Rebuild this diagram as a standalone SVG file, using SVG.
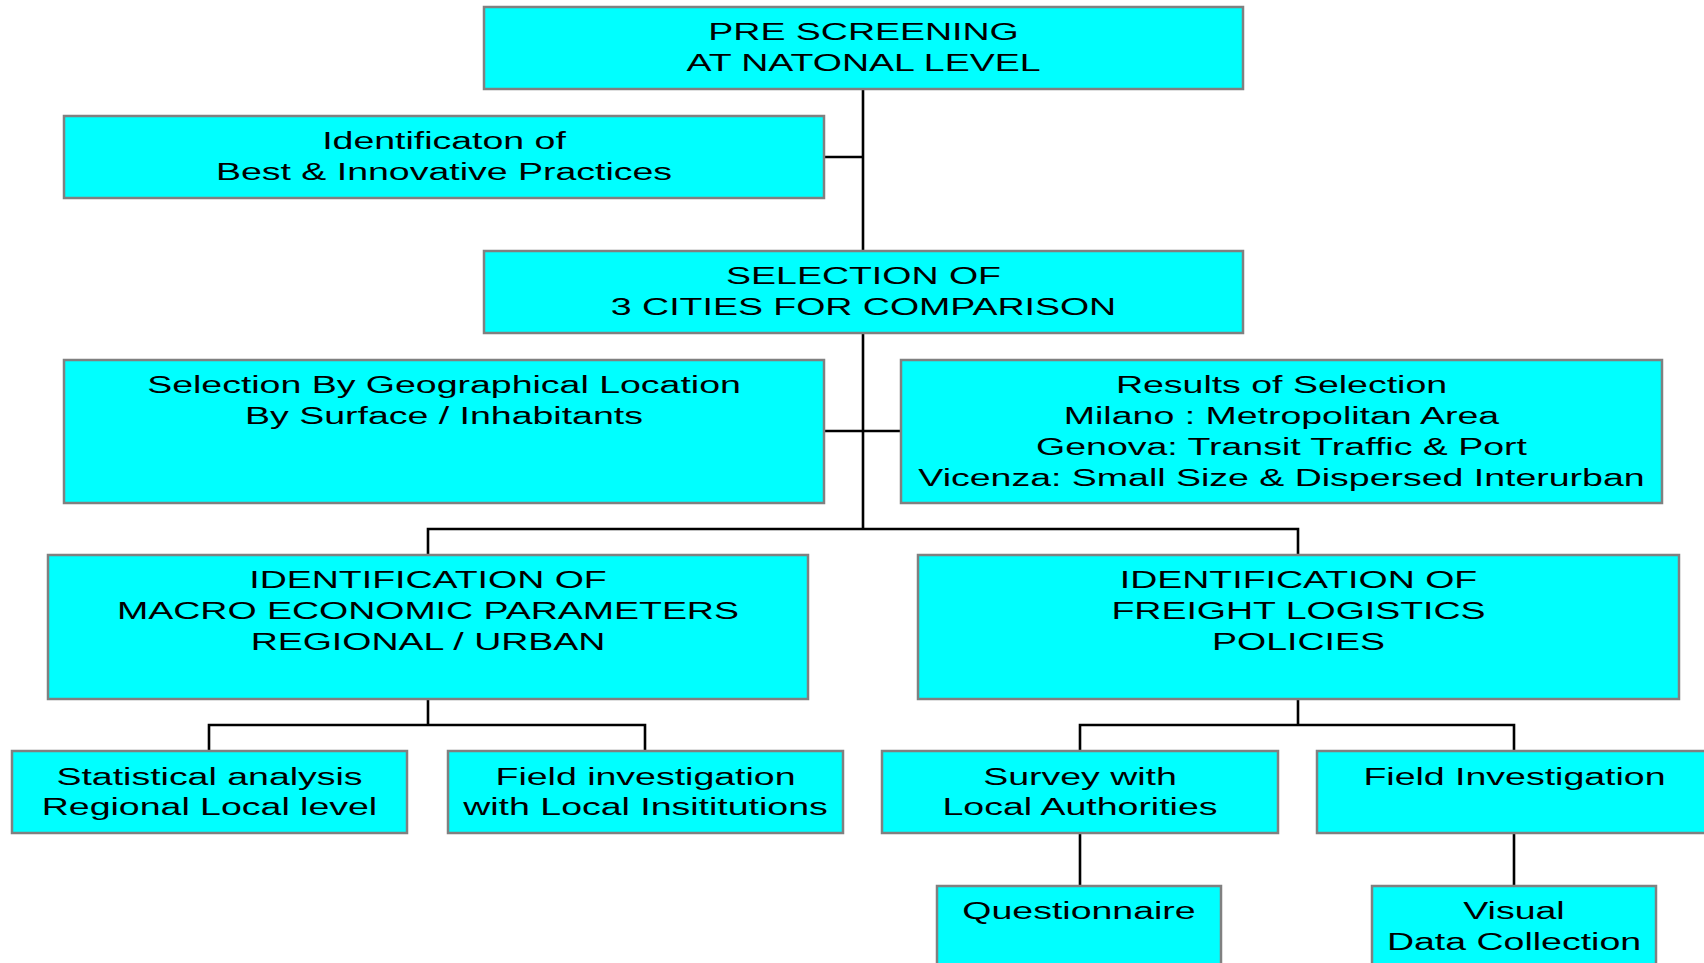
<svg xmlns="http://www.w3.org/2000/svg" width="1704" height="963" viewBox="0 0 1704 963">
<style>
.box{fill:#00FFFF;stroke:#808080;stroke-width:2.5}
.t{font-family:"Liberation Sans",Arial,sans-serif;font-size:24.5px;fill:#000;text-anchor:middle}
.c{fill:none;stroke:#000;stroke-width:2.6}
</style>
<rect width="1704" height="963" fill="#fff"/>
<g id="connectors">
<path class="c" d="M863 89V529M824 157H863M824 431H901M428 555V529H1298V555"/>
<path class="c" d="M428 699V725M209 751V725H645V751"/>
<path class="c" d="M1298 699V725M1080 751V725H1514V751"/>
<path class="c" d="M1080 833V886M1514 833V886"/>
</g>
<g id="n1"><rect class="box" x="484" y="7" width="759" height="82"/>
<text class="t" transform="translate(863.5 40) scale(1.53 1)"><tspan x="0">PRE SCREENING</tspan><tspan x="0" dy="31">AT NATONAL LEVEL</tspan></text></g>
<g id="n2"><rect class="box" x="64" y="116" width="760" height="82"/>
<text class="t" transform="translate(444 149) scale(1.53 1)"><tspan x="0">Identificaton of</tspan><tspan x="0" dy="31">Best &amp; Innovative Practices</tspan></text></g>
<g id="n3"><rect class="box" x="484" y="251" width="759" height="82"/>
<text class="t" transform="translate(863.5 284) scale(1.53 1)"><tspan x="0">SELECTION OF</tspan><tspan x="0" dy="31">3 CITIES FOR COMPARISON</tspan></text></g>
<g id="n4"><rect class="box" x="64" y="360" width="760" height="143"/>
<text class="t" transform="translate(444 393) scale(1.53 1)"><tspan x="0">Selection By Geographical Location</tspan><tspan x="0" dy="31">By Surface / Inhabitants</tspan></text></g>
<g id="n5"><rect class="box" x="901" y="360" width="761" height="143"/>
<text class="t" transform="translate(1281.5 393) scale(1.53 1)"><tspan x="0">Results of Selection</tspan><tspan x="0" dy="31">Milano : Metropolitan Area</tspan><tspan x="0" dy="31">Genova: Transit Traffic &amp; Port</tspan><tspan x="0" dy="31">Vicenza: Small Size &amp; Dispersed Interurban</tspan></text></g>
<g id="n6"><rect class="box" x="48" y="555" width="760" height="144"/>
<text class="t" transform="translate(428 588) scale(1.53 1)"><tspan x="0">IDENTIFICATION OF</tspan><tspan x="0" dy="31">MACRO ECONOMIC PARAMETERS</tspan><tspan x="0" dy="31">REGIONAL / URBAN</tspan></text></g>
<g id="n7"><rect class="box" x="918" y="555" width="761" height="144"/>
<text class="t" transform="translate(1298.5 588) scale(1.53 1)"><tspan x="0">IDENTIFICATION OF</tspan><tspan x="0" dy="31">FREIGHT LOGISTICS</tspan><tspan x="0" dy="31">POLICIES</tspan></text></g>
<g id="n8"><rect class="box" x="12" y="751" width="395" height="82"/>
<text class="t" transform="translate(209.5 785) scale(1.53 1)"><tspan x="0">Statistical analysis</tspan><tspan x="0" dy="30">Regional Local level</tspan></text></g>
<g id="n9"><rect class="box" x="448" y="751" width="395" height="82"/>
<text class="t" transform="translate(645.5 785) scale(1.53 1)"><tspan x="0">Field investigation</tspan><tspan x="0" dy="30">with Local Insititutions</tspan></text></g>
<g id="n10"><rect class="box" x="882" y="751" width="396" height="82"/>
<text class="t" transform="translate(1080 785) scale(1.53 1)"><tspan x="0">Survey with</tspan><tspan x="0" dy="30">Local Authorities</tspan></text></g>
<g id="n11"><rect class="box" x="1317" y="751" width="395" height="82"/>
<text class="t" transform="translate(1514.5 785) scale(1.53 1)"><tspan x="0">Field Investigation</tspan></text></g>
<g id="n12"><rect class="box" x="937" y="886" width="284" height="100"/>
<text class="t" transform="translate(1079 919) scale(1.53 1)"><tspan x="0">Questionnaire</tspan></text></g>
<g id="n13"><rect class="box" x="1372" y="886" width="284" height="100"/>
<text class="t" transform="translate(1514 919) scale(1.53 1)"><tspan x="0">Visual</tspan><tspan x="0" dy="31">Data Collection</tspan></text></g>
</svg>
